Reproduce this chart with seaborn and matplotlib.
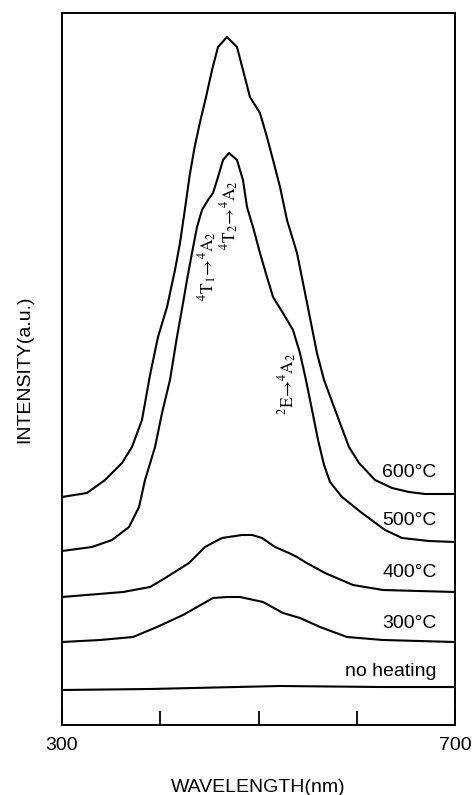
# Emission spectra vs annealing temperature
import numpy as np
import pandas as pd
import matplotlib
matplotlib.use("Agg")
import matplotlib.pyplot as plt
import seaborn as sns

# curves (wavelength nm, intensity a.u.)
wl_none = [300, 389.6, 521.9, 623.7, 700]
int_none = [35, 36, 39, 38, 38]

wl_300 = [300, 338.7, 372.3, 396.7, 423.2, 453.7, 467.9, 481.2, 504.6, 524.9,
          542.2, 562.6, 590.1, 626.7, 700]
int_300 = [83, 85, 88, 98, 110, 127, 128, 128, 123, 112, 107, 98, 88, 85, 83]

wl_400 = [300, 362.1, 389.6, 401.8, 429.3, 445.5, 462.8, 483.2, 493.4, 503.6,
          516.8, 531.0, 539.2, 547.3, 567.7, 596.2, 626.7, 700]
int_400 = [128, 133, 138, 145, 162, 178, 187, 190, 190, 187, 178, 172, 168,
           163, 152, 140, 135, 133]

wl_500 = [300, 330.5, 350.9, 368.2, 378.4, 384.5, 394.7, 401.8, 409.9, 417.0,
          423.2, 427.2, 432.3, 437.4, 442.5, 448.6, 453.7, 458.8, 463.9, 470.0,
          478.1, 484.2, 488.3, 494.4, 501.5, 508.6, 514.8, 524.9, 535.1, 542.2,
          548.3, 554.5, 560.6, 566.7, 572.8, 585.0, 605.3, 628.8, 646.1, 673.5, 700]
int_500 = [174, 178, 185, 198, 218, 245, 278, 312, 345, 388,
           422, 445, 472, 498, 515, 525, 532, 548, 565, 572,
           565, 545, 518, 498, 472, 448, 428, 412, 395, 372,
           345, 315, 285, 260, 243, 228, 212, 195, 187, 184, 183]

wl_600 = [300, 325.4, 343.8, 361.1, 371.2, 381.4, 389.6, 397.7, 406.9, 415.0,
          420.1, 425.0, 430.0, 435.0, 440.5, 446.6, 452.7, 458.8, 467.9, 478.1,
          484.2, 491.3, 501.5, 508.6, 514.8, 521.9, 529.0, 539.2, 549.4, 559.5,
          566.7, 579.9, 592.1, 602.3, 618.6, 635.9, 653.2, 669.5, 700]
int_600 = [228, 232, 245, 262, 278, 305, 350, 388, 418, 455,
           482, 515, 550, 578, 603, 628, 655, 678, 688, 678,
           655, 628, 612, 588, 565, 538, 505, 472, 422, 372,
           345, 310, 278, 262, 245, 237, 233, 231, 231]

curve_names = ["no heating", "300°C", "400°C", "500°C", "600°C"]
label_y = [49, 97, 148, 200, 248]

# transition labels
trans_text = [r"$^{4}\mathrm{T}_{1}\!\rightarrow\!^{4}\mathrm{A}_{2}$",
              r"$^{4}\mathrm{T}_{2}\!\rightarrow\!^{4}\mathrm{A}_{2}$",
              r"$^{2}\mathrm{E}\!\rightarrow\!^{4}\mathrm{A}_{2}$"]
trans_x = [448.6, 471.0, 530.0]
trans_y = [459, 510, 341]

sns.set_style("white")
plt.rcParams["font.family"] = ["Liberation Sans", "DejaVu Sans"]
plt.rcParams["mathtext.fontset"] = "stix"
plt.rcParams["text.color"] = "black"
plt.rcParams["axes.labelcolor"] = "black"
plt.rcParams["xtick.color"] = "black"

fig = plt.figure(figsize=(4.72, 7.95), dpi=100)
ax = fig.add_axes([62 / 472, 70 / 795, 393 / 472, 712 / 795])

curves = [(wl_none, int_none), (wl_300, int_300), (wl_400, int_400),
          (wl_500, int_500), (wl_600, int_600)]
for (wl, inten), name in zip(curves, curve_names):
    df = pd.DataFrame({"wl": wl, "I": inten})
    sns.lineplot(data=df, x="wl", y="I", color="black", lw=1.5, ax=ax,
                 sort=False, estimator=None)

for name, yy in zip(curve_names, label_y):
    ax.text(681.5, yy, name, ha="right", va="baseline", fontsize=14)

for t, xx, yy in zip(trans_text, trans_x, trans_y):
    ax.text(xx, yy, t, rotation=90, ha="center", va="center", fontsize=12.5)

ax.set_xlim(300, 700)
ax.set_ylim(0, 712)
ax.set_xticks([300, 400, 500, 600, 700])
ax.set_xticklabels(["300", "", "", "", "700"])
ax.set_yticks([])
ax.tick_params(axis="x", direction="in", length=10, width=1.3, pad=9,
               labelsize=14, bottom=True)
for sp in ax.spines.values():
    sp.set_color("black")
    sp.set_linewidth(1.4)

ax.set_xlabel("WAVELENGTH(nm)", fontsize=14, labelpad=18)
ax.set_ylabel("INTENSITY(a.u.)", fontsize=14, labelpad=21)

fig.savefig("out.png", dpi=100)
